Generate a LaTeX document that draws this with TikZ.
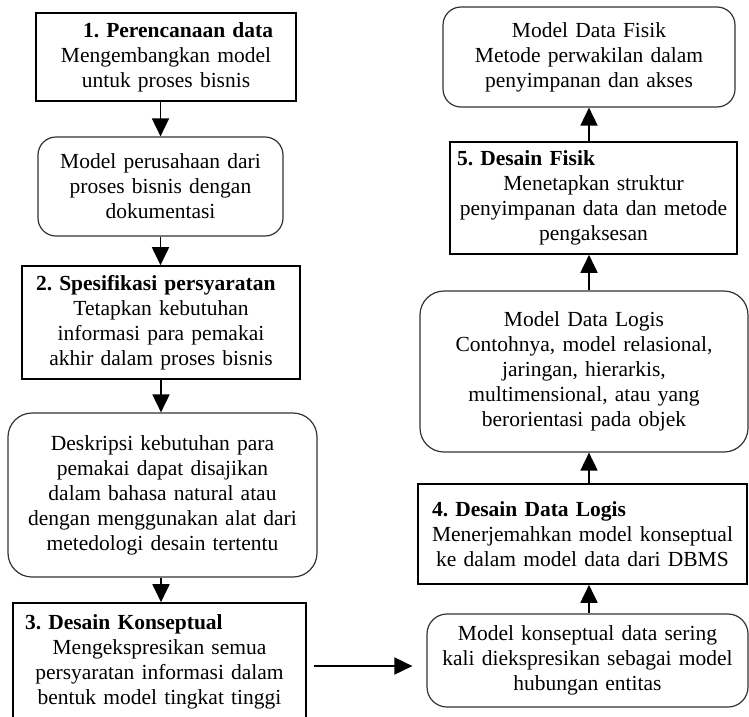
\documentclass[tikz,border=0pt]{standalone}
\usepackage{fontspec}
\setmainfont{Liberation Serif}
\usetikzlibrary{arrows.meta}
\frenchspacing
\newcommand\hdline[2]{\hspace*{#1pt}{\bfseries #2}\hskip0pt plus1filll\null}
\begin{document}
\begin{tikzpicture}[x=1pt,y=-1pt,
  base/.style={align=center, inner xsep=4pt, inner ysep=0pt, font=\frenchspacing\fontsize{21.5}{25}\selectfont, text=black},
  rectbox/.style={base, draw, line width=1.6pt},
  roundbox/.style={base, draw=black!80, line width=1.2pt, rounded corners=#1},
  roundbox/.default=18pt,
  sz/.style 2 args={minimum width=#1pt, text width=#1pt-8pt, minimum height=#2pt},
  arr/.style={-{Triangle[width=17pt,length=18pt]}, line width=1.8pt}]
\useasboundingbox (0,0) rectangle (749,716);

% left column
\node[rectbox, sz={260}{88}] (A1) at (166,57)
  {\hdline{43}{1. Perencanaan data}\\ Mengembangkan model\\ untuk proses bisnis};
\node[roundbox=18pt, sz={245}{99}] (A2) at (160.5,186.5)
  {Model perusahaan dari\\ proses bisnis dengan\\ dokumentasi};
\node[rectbox, sz={278}{113}] (A3) at (161,322.5)
  {\hdline{10}{2. Spesifikasi persyaratan}\\ Tetapkan kebutuhan\\ informasi para pemakai\\ akhir dalam proses bisnis};
\node[roundbox=24pt, sz={309}{164}] (A4) at (162.5,495)
  {Deskripsi kebutuhan para\\ pemakai dapat disajikan\\ dalam bahasa natural atau\\ dengan menggunakan alat dari\\ metedologi desain tertentu};
\node[rectbox, sz={293}{117}] (A5) at (159.5,661.5)
  {\hdline{8}{3. Desain Konseptual}\\ Mengekspresikan semua\\ persyaratan informasi dalam\\ bentuk model tingkat tinggi};

% right column
\node[roundbox=18pt, sz={292}{100}] (B1) at (589,57)
  {Model Data Fisik\\ Metode perwakilan dalam\\ penyimpanan dan akses};
\node[rectbox, sz={287}{112}] (B2) at (593.5,198)
  {\hdline{3}{5. Desain Fisik}\\ Menetapkan struktur\\ penyimpanan data dan metode\\ pengaksesan};
\node[roundbox=24pt, sz={328}{161}] (B3) at (584,371.5)
  {Model Data Logis\\ Contohnya, model relasional,\\ jaringan, hierarkis,\\ multimensional, atau yang\\ berorientasi pada objek};
\node[rectbox, sz={329}{100}] (B4) at (582.5,534)
  {\hdline{10}{4. Desain Data Logis}\\ Menerjemahkan model konseptual\\ ke dalam model data dari DBMS};
\node[roundbox=20pt, sz={321}{93}] (B5) at (587.5,660.5)
  {Model konseptual data sering\\ kali diekspresikan sebagai model\\ hubungan entitas};

% connectors
\draw[arr] (A1.south -| A2.north) -- (A2.north);
\draw[arr] (A2.south) -- (A2.south |- A3.north);
\draw[arr] (A3.south) -- (A3.south |- A4.north);
\draw[arr] (A4.south -| A3.south) -- (A3.south |- A5.north);
\draw[arr, shorten <=7pt, shorten >=14pt] ([yshift=-4.5pt]A5.east) -- ([yshift=-4.5pt]A5.east -| B5.west);
\draw[arr] (B5.north -| B1.south) -- (B4.south -| B1.south);
\draw[arr] (B4.north -| B1.south) -- (B3.south -| B1.south);
\draw[arr] (B3.north -| B1.south) -- (B2.south -| B1.south);
\draw[arr] (B2.north -| B1.south) -- (B1.south);
\end{tikzpicture}
\end{document}
